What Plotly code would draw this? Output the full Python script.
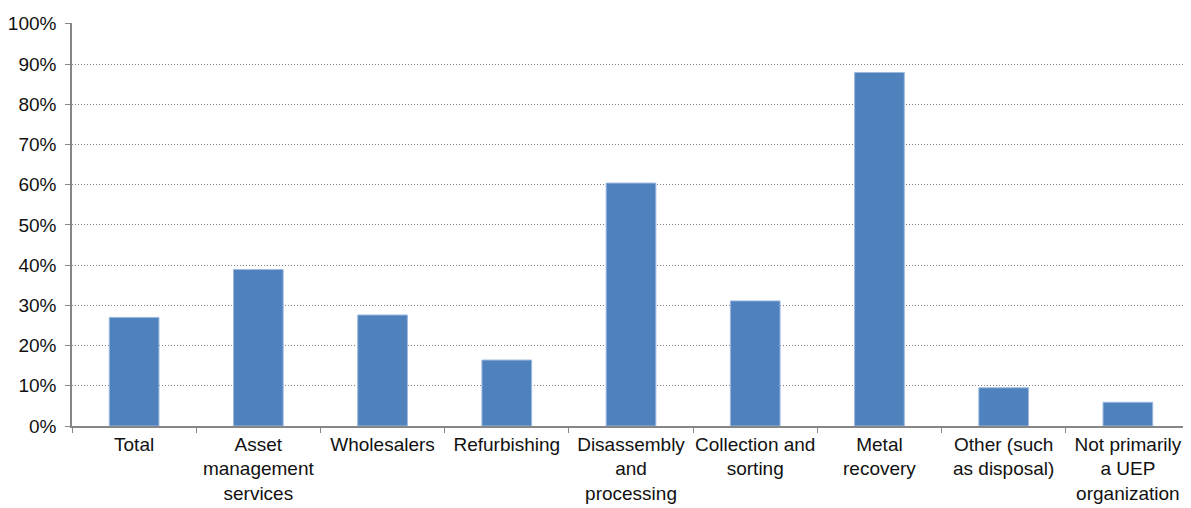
import plotly.graph_objects as go

categories = [
    "Total",
    "Asset<br>management<br>services",
    "Wholesalers",
    "Refurbishing",
    "Disassembly<br>and<br>processing",
    "Collection and<br>sorting",
    "Metal<br>recovery",
    "Other (such<br>as disposal)",
    "Not primarily<br>a UEP<br>organization",
]
values = [0.270, 0.389, 0.276, 0.164, 0.604, 0.311, 0.879, 0.095, 0.059]
y_ticks = [0, 0.1, 0.2, 0.3, 0.4, 0.5, 0.6, 0.7, 0.8, 0.9, 1.0]

fig = go.Figure(
    go.Bar(
        x=categories,
        y=values,
        marker=dict(color="#4F81BD", line=dict(color="#9DB9DE", width=1)),
        width=0.4,
    )
)

font = dict(family="Liberation Sans, Arial, sans-serif", size=19, color="#111111")

# page body has an 8px margin, so the figure is sized/offset to compensate
fig.update_layout(
    width=1183,
    height=500,
    margin=dict(l=64, r=1, t=15, b=82),
    plot_bgcolor="white",
    paper_bgcolor="white",
    font=font,
    showlegend=False,
    bargap=0.6,
)

fig.update_yaxes(
    range=[0, 1.002],
    tickvals=y_ticks,
    tickformat=".0%",
    showgrid=True,
    gridcolor="#808080",
    griddash="1px,2px",
    gridwidth=1,
    showline=True,
    linecolor="#868686",
    linewidth=1.5,
    ticks="outside",
    ticklen=5,
    tickcolor="#868686",
    zeroline=False,
    tickfont=font,
    ticklabelstandoff=5,
    automargin=False,
)

fig.update_xaxes(
    showline=True,
    linecolor="#868686",
    linewidth=1.5,
    ticks="outside",
    tickson="boundaries",
    ticklen=5,
    tickcolor="#868686",
    showgrid=False,
    tickfont=font,
    tickangle=0,
    automargin=False,
)

fig.write_html("out.html")
